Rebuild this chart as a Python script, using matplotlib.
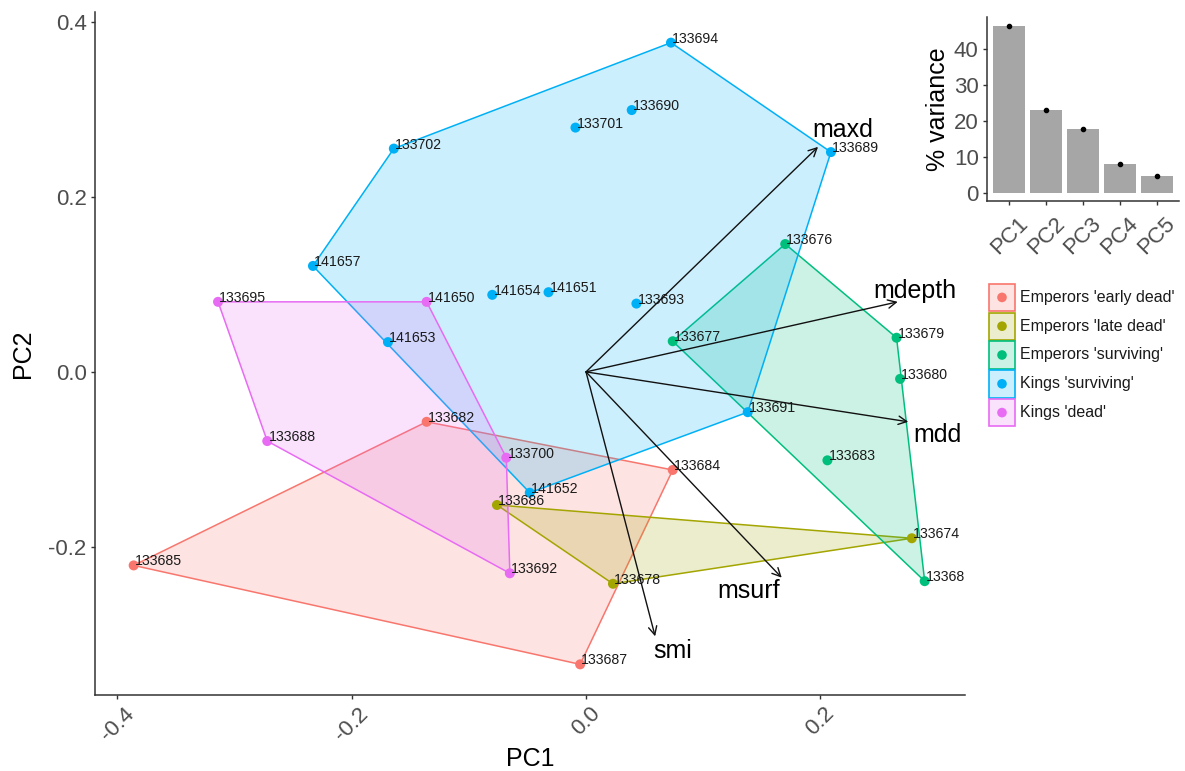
import numpy as np
import matplotlib
matplotlib.use('Agg')
import matplotlib.pyplot as plt
from matplotlib.patches import Polygon, Rectangle
from matplotlib.colors import to_rgba

plt.rcParams['font.family'] = ['Liberation Sans', 'DejaVu Sans']

W, H = 1185, 771

# ---------------- data ----------------
groups = ["Emperors 'early dead'", "Emperors 'late dead'", "Emperors 'surviving'",
          "Kings 'surviving'", "Kings 'dead'"]
colors = ['#F8766D', '#A3A500', '#00BF7D', '#00B0F6', '#E76BF3']

ids_early = ['133682', '133684', '133685', '133687']
pc1_early = [-0.136, 0.074, -0.386, -0.005]
pc2_early = [-0.057, -0.112, -0.221, -0.334]

ids_late = ['133686', '133678', '133674']
pc1_late = [-0.076, 0.023, 0.278]
pc2_late = [-0.152, -0.242, -0.190]

ids_esurv = ['133676', '133677', '133679', '133680', '133683', '133681']
pc1_esurv = [0.170, 0.074, 0.265, 0.268, 0.206, 0.289]
pc2_esurv = [0.146, 0.035, 0.039, -0.008, -0.101, -0.239]

ids_ksurv = ['133694', '133690', '133701', '133702', '133689', '141657', '141654',
             '141651', '133693', '141653', '133691', '141652']
pc1_ksurv = [0.0725, 0.039, -0.009, -0.164, 0.209, -0.233, -0.080,
             -0.032, 0.043, -0.169, 0.138, -0.048]
pc2_ksurv = [0.376, 0.299, 0.279, 0.255, 0.251, 0.121, 0.088,
             0.091, 0.078, 0.034, -0.046, -0.138]

ids_kdead = ['133695', '141650', '133688', '133700', '133692']
pc1_kdead = [-0.314, -0.136, -0.272, -0.068, -0.065]
pc2_kdead = [0.080, 0.080, -0.079, -0.098, -0.230]

var_names = ['maxd', 'mdepth', 'mdd', 'msurf', 'smi']
load_pc1 = [0.198, 0.266, 0.275, 0.167, 0.059]
load_pc2 = [0.257, 0.080, -0.057, -0.235, -0.302]

pcs = ['PC1', 'PC2', 'PC3', 'PC4', 'PC5']
pct_var = [46.4, 23.1, 17.6, 8.0, 4.5]

group_data = [
    (ids_early, pc1_early, pc2_early),
    (ids_late, pc1_late, pc2_late),
    (ids_esurv, pc1_esurv, pc2_esurv),
    (ids_ksurv, pc1_ksurv, pc2_ksurv),
    (ids_kdead, pc1_kdead, pc2_kdead),
]

# label offsets (pixels, text centre / baseline relative to arrow tip)
arrow_label_offset = {'maxd': (25, 10), 'mdepth': (17, 4), 'mdd': (29, -20),
                      'msurf': (-33, -20), 'smi': (17, -22)}


def convex_hull(pts):
    pts = sorted(set(pts))
    if len(pts) <= 2:
        return pts

    def cross(o, a, b):
        return (a[0] - o[0]) * (b[1] - o[1]) - (a[1] - o[1]) * (b[0] - o[0])
    lower = []
    for p in pts:
        while len(lower) >= 2 and cross(lower[-2], lower[-1], p) <= 0:
            lower.pop()
        lower.append(p)
    upper = []
    for p in reversed(pts):
        while len(upper) >= 2 and cross(upper[-2], upper[-1], p) <= 0:
            upper.pop()
        upper.append(p)
    return lower[:-1] + upper[:-1]


fig = plt.figure(figsize=(W / 100, H / 100), dpi=100)
PX = 0.72  # points per pixel

# main axes
x0, x1 = 95, 965
y0, y1 = 12, 695
ax = fig.add_axes([x0 / W, 1 - y1 / H, (x1 - x0) / W, (y1 - y0) / H])
ax.set_xlim(-0.419, 0.3234)
ax.set_ylim(-0.369, 0.411)

for (ids, xs, ys), c in zip(group_data, colors):
    hull = convex_hull(list(zip(xs, ys)))
    ax.add_patch(Polygon(hull, closed=True, facecolor=to_rgba(c, 0.2),
                         edgecolor=c, lw=1.1, zorder=2))

for (ids, xs, ys), c in zip(group_data, colors):
    ax.scatter(xs, ys, s=52, color=c, zorder=4, edgecolors='none')
    for i, x, y in zip(ids, xs, ys):
        ax.annotate(i, (x, y), xytext=(0.8, 0), textcoords='offset points',
                    ha='left', va='baseline', fontsize=10.2, color='#1a1a1a',
                    zorder=5, annotation_clip=True, clip_on=True)

for name, lx, ly in zip(var_names, load_pc1, load_pc2):
    ax.annotate('', xy=(lx, ly), xytext=(0, 0),
                arrowprops=dict(arrowstyle='->', color='#111111', lw=1.0,
                                mutation_scale=15, shrinkA=0, shrinkB=0),
                zorder=6)
    dx, dy = arrow_label_offset[name]
    ax.annotate(name, (lx, ly), xytext=(dx * PX, dy * PX),
                textcoords='offset points', ha='center', va='baseline',
                fontsize=18, color='black', zorder=7)

for s in ['top', 'right']:
    ax.spines[s].set_visible(False)
for s in ['left', 'bottom']:
    ax.spines[s].set_color('#333333')
    ax.spines[s].set_linewidth(1.1)
ax.set_xticks([-0.4, -0.2, 0.0, 0.2])
ax.set_xticklabels(['-0.4', '-0.2', '0.0', '0.2'], rotation=45, ha='center', va='top')
ax.set_yticks([-0.2, 0.0, 0.2, 0.4])
ax.set_yticklabels(['-0.2', '0.0', '0.2', '0.4'])
ax.tick_params(axis='both', labelsize=16, labelcolor='#4d4d4d', color='#333333',
               length=3, width=1.0, pad=3)
ax.set_xlabel('PC1', fontsize=18, labelpad=1)
ax.set_ylabel('PC2', fontsize=18, labelpad=10)

# inset bar chart
bx0, bx1 = 987, 1179
by0, by1 = 17, 201
bax = fig.add_axes([bx0 / W, 1 - by1 / H, (bx1 - bx0) / W, (by1 - by0) / H])
pos = np.arange(1, len(pcs) + 1)
bax.bar(pos, pct_var, width=0.88, color='#a6a6a6', zorder=2)
bax.scatter(pos, pct_var, s=9, color='black', zorder=3)
bax.set_xlim(0.4, 5.6)
bax.set_ylim(-2.33, 48.9)
bax.set_xticks(pos)
bax.set_xticklabels(pcs, rotation=45, ha='center', va='top')
bax.set_yticks([0, 10, 20, 30, 40])
bax.tick_params(axis='both', labelsize=16, labelcolor='#4d4d4d', color='#333333',
                length=3, width=1.0, pad=3)
bax.tick_params(axis='x', pad=6)
bax.set_ylabel('% variance', fontsize=18, labelpad=3)
for s in ['top', 'right']:
    bax.spines[s].set_visible(False)
for s in ['left', 'bottom']:
    bax.spines[s].set_color('#333333')
    bax.spines[s].set_linewidth(1.1)

# legend
lx0, lx1 = 988, 1182
ly0, ly1 = 283, 427
lax = fig.add_axes([lx0 / W, 1 - ly1 / H, (lx1 - lx0) / W, (ly1 - ly0) / H])
lax.set_xlim(0, lx1 - lx0)
lax.set_ylim(ly1 - ly0, 0)
lax.axis('off')
row = (ly1 - ly0) / len(groups)
for k, (g, c) in enumerate(zip(groups, colors)):
    top = k * row
    lax.add_patch(Rectangle((0.7, top + 0.7), 26.5, row - 1.4, facecolor=to_rgba(c, 0.2),
                            edgecolor=c, lw=1.2))
    lax.scatter([14], [top + row / 2], s=48, color=c, edgecolors='none', zorder=3)
    lax.text(32, top + row / 2, g, ha='left', va='center', fontsize=11.5, color='#1a1a1a')

fig.savefig('out.png', dpi=100, facecolor='white')
